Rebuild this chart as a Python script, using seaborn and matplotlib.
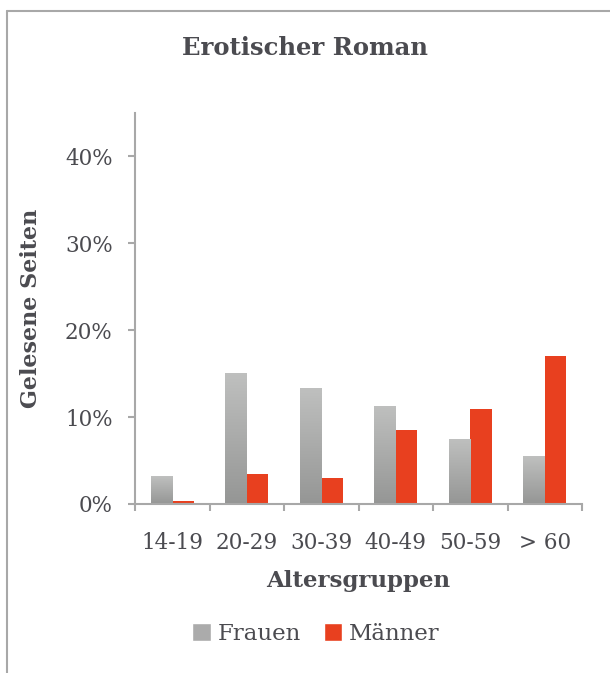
import numpy as np
import pandas as pd
import matplotlib
matplotlib.use('Agg')
import matplotlib.pyplot as plt
from matplotlib.lines import Line2D
from matplotlib.patches import Patch
from matplotlib.colors import LinearSegmentedColormap
import seaborn as sns

# Daten
gruppen = ['14-19', '20-29', '30-39', '40-49', '50-59', '> 60']
frauen = [0.032, 0.151, 0.134, 0.113, 0.075, 0.055]
maenner = [0.004, 0.035, 0.030, 0.085, 0.109, 0.170]
serien = ['Frauen', 'Männer']

df = pd.DataFrame({
    'gruppe': gruppen * 2,
    'anteil': frauen + maenner,
    'geschlecht': ['Frauen'] * len(gruppen) + ['Männer'] * len(gruppen),
})

sns.set_theme(style='white')
plt.rcParams['font.family'] = ['DejaVu Serif']
textfarbe = '#4b4b50'
achsenfarbe = '#a8a8a8'
grau = '#ababab'
rot = '#e8401f'

fig = plt.figure(figsize=(6.1, 6.73), dpi=100)
ax = fig.add_axes([135 / 610, 1 - 504 / 673, (582 - 135) / 610, (504 - 113) / 673])

sns.barplot(data=df, x='gruppe', y='anteil', hue='geschlecht', order=gruppen,
            hue_order=serien, palette=[grau, rot], saturation=1, width=0.58,
            gap=0, linewidth=0, legend=False, ax=ax)

# Farbverlauf fuer die grauen Balken
cmap = LinearSegmentedColormap.from_list('g', ['#959695', '#bfc0bf'])
grad = np.linspace(0, 1, 256).reshape(-1, 1)
for p in ax.containers[0]:
    x0, y0 = p.get_x(), p.get_y()
    w, h = p.get_width(), p.get_height()
    im = ax.imshow(grad, cmap=cmap, origin='lower', aspect='auto',
                   extent=(x0, x0 + w, y0, y0 + h), zorder=p.get_zorder() + 0.1)
    im.set_clip_path(p)

ax.set_xlim(-0.5, 5.5)
ax.set_ylim(0, 0.45)

# Achsen
for s in ['top', 'right']:
    ax.spines[s].set_visible(False)
for s in ['left', 'bottom']:
    ax.spines[s].set_color(achsenfarbe)
    ax.spines[s].set_linewidth(1.5)

ax.set_yticks([0, 0.1, 0.2, 0.3, 0.4])
ax.set_yticklabels(['0%', '10%', '20%', '30%', '40%'])
ax.set_xticks(np.arange(-0.5, 6, 1))
ax.set_xticklabels([])
ax.set_xticks(np.arange(6), minor=True)
ax.set_xticklabels(gruppen, minor=True)
ax.tick_params(axis='both', which='major', direction='out', length=5, width=1.5,
               color=achsenfarbe, labelcolor=textfarbe, labelsize=15.5)
ax.tick_params(axis='y', pad=11, left=True)
ax.tick_params(axis='x', which='major', bottom=True)
ax.tick_params(axis='x', which='minor', length=0, pad=20, labelsize=15.5,
               labelcolor=textfarbe)

ax.set_xlabel('Altersgruppen', fontsize=16.5, fontweight='bold', color=textfarbe,
              labelpad=12)
ax.set_ylabel('Gelesene Seiten', fontsize=16, fontweight='bold', color=textfarbe)
ax.yaxis.set_label_coords(-0.208, 0.5)

fig.text(0.5, 1 - 48 / 673, 'Erotischer Roman', ha='center', va='center',
         fontsize=17.5, fontweight='bold', color=textfarbe)

handles = [Patch(facecolor=grau, label='Frauen'), Patch(facecolor=rot, label='Männer')]
fig.legend(handles=handles, loc='center', bbox_to_anchor=(316 / 610, 1 - 634 / 673),
           ncol=2, frameon=False, fontsize=16.5, handlelength=0.8, handleheight=0.8,
           handletextpad=0.3, columnspacing=1.0, labelcolor=textfarbe)

# Rahmen
fig.add_artist(Line2D([7 / 610, 1], [1 - 11 / 673, 1 - 11 / 673], color=achsenfarbe,
                      linewidth=1.5, transform=fig.transFigure))
fig.add_artist(Line2D([7 / 610, 7 / 610], [0, 1 - 11 / 673], color=achsenfarbe,
                      linewidth=1.5, transform=fig.transFigure))

fig.savefig('out.png', dpi=100, facecolor='white')
